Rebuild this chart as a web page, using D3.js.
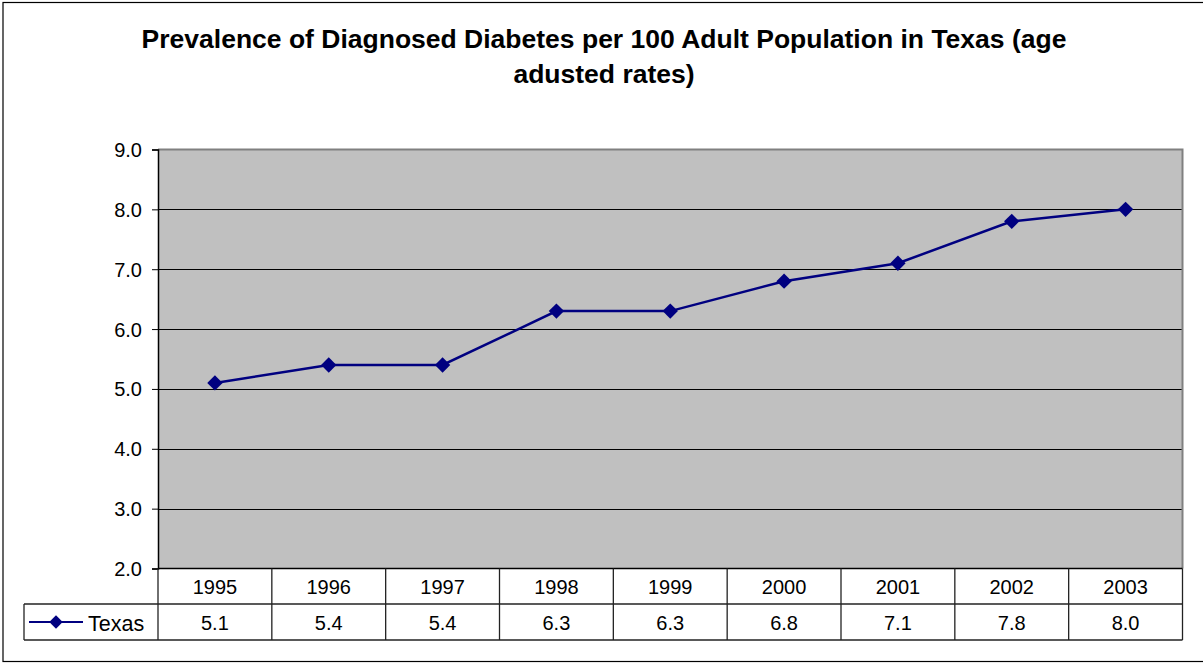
<!DOCTYPE html>
<html><head><meta charset="utf-8">
<script src="https://cdn.jsdelivr.net/npm/d3@7"></script>
<style>body{margin:0;background:#fff;} svg{display:block;font-family:"Liberation Sans",Arial,sans-serif;}</style>
</head><body>
<svg id="c" width="1203" height="663"></svg>
<script>
const years = ["1995","1996","1997","1998","1999","2000","2001","2002","2003"];
const texasValues = [5.1,5.4,5.4,6.3,6.3,6.8,7.1,7.8,8.0];
const yTicks = [2,3,4,5,6,7,8,9];
const seriesName = "Texas";
const titleLines = ["Prevalence of Diagnosed Diabetes per 100 Adult Population in Texas (age","adusted rates)"];

const svg = d3.select("#c");
const L = 158, R = 1182.5, T = 149.5, B = 568.5;
const row1B = 604, row2B = 640, tableL = 24;
const navy = "#000080";
const fs = 20;

svg.append("rect").attr("x",3).attr("y",2.5).attr("width",1210).attr("height",659).attr("fill","#fff").attr("stroke","#000").attr("stroke-width",1.2);

const x = d3.scaleBand().domain(years).range([L,R]).paddingInner(0).paddingOuter(0);
const y = d3.scaleLinear().domain([2,9]).range([B,T]);

svg.append("rect").attr("x",L).attr("y",T).attr("width",R-L).attr("height",B-T).attr("fill","#c0c0c0");
// gridlines
svg.append("g").selectAll("line").data(yTicks.filter(d=>d>2&&d<9)).join("line")
  .attr("x1",L).attr("x2",R).attr("y1",d=>Math.round(y(d))+0.5).attr("y2",d=>Math.round(y(d))+0.5)
  .attr("stroke","#000").attr("stroke-width",1);
// plot border gray top/right
svg.append("path").attr("d",`M${L},${T}H${R}V${B}`).attr("fill","none").attr("stroke","#808080").attr("stroke-width",2);

// y axis
const yAxis = d3.axisLeft(y).tickValues(yTicks).tickFormat(d3.format(".1f")).tickSize(6).tickPadding(10);
const ga = svg.append("g").attr("transform",`translate(${L},0)`).call(yAxis);
ga.select(".domain").attr("stroke","#000").attr("stroke-width",1.5);
ga.selectAll(".tick line").attr("stroke","#000");
ga.selectAll("text").attr("font-size",fs).attr("fill","#000").attr("font-family","Liberation Sans, Arial, sans-serif").attr("dy","0.35em");

// table
const tg = svg.append("g").attr("stroke","#222").attr("stroke-width",1.3);
tg.append("line").attr("x1",L).attr("x2",R).attr("y1",B).attr("y2",B).attr("stroke","#000").attr("stroke-width",1.5);
tg.append("line").attr("x1",tableL).attr("x2",R).attr("y1",row1B).attr("y2",row1B);
tg.append("line").attr("x1",tableL).attr("x2",R).attr("y1",row2B).attr("y2",row2B);
tg.append("line").attr("x1",tableL).attr("x2",tableL).attr("y1",row1B).attr("y2",row2B);
tg.selectAll("line.v").data(years.concat(["end"])).join("line").attr("class","v")
  .attr("x1",(d,i)=>i<years.length?x(d):R).attr("x2",(d,i)=>i<years.length?x(d):R)
  .attr("y1",B).attr("y2",row2B);

svg.append("g").selectAll("text").data(years).join("text")
  .attr("x",d=>x(d)+x.bandwidth()/2).attr("y",593.5).attr("text-anchor","middle")
  .attr("font-size",fs).text(d=>d);
svg.append("g").selectAll("text").data(texasValues).join("text")
  .attr("x",(d,i)=>x(years[i])+x.bandwidth()/2).attr("y",630).attr("text-anchor","middle")
  .attr("font-size",fs).text(d=>d3.format(".1f")(d));

// legend key
const ly = (row1B+row2B)/2;
svg.append("line").attr("x1",29).attr("x2",83).attr("y1",ly).attr("y2",ly).attr("stroke",navy).attr("stroke-width",2.2);
svg.append("path").attr("d",d3.symbol().type(d3.symbolSquare).size(90)()).attr("transform",`translate(56,${ly}) rotate(45)`).attr("fill",navy);
svg.append("text").attr("x",88).attr("y",631).attr("font-size",21.5).text(seriesName);

// line
const cx = (d,i)=>x(years[i])+x.bandwidth()/2;
svg.append("path").datum(texasValues)
  .attr("d",d3.line().x(cx).y(d=>y(d)))
  .attr("fill","none").attr("stroke",navy).attr("stroke-width",2.5);
svg.append("g").selectAll("path").data(texasValues).join("path")
  .attr("d",d3.symbol().type(d3.symbolSquare).size(118)())
  .attr("transform",(d,i)=>`translate(${cx(d,i)},${y(d)}) rotate(45)`).attr("fill",navy);

// title
svg.append("g").selectAll("text").data(titleLines).join("text")
  .attr("x",604).attr("y",(d,i)=>48+i*35).attr("text-anchor","middle")
  .attr("font-size",26.5).attr("font-weight","bold").text(d=>d);
</script>
</body></html>
